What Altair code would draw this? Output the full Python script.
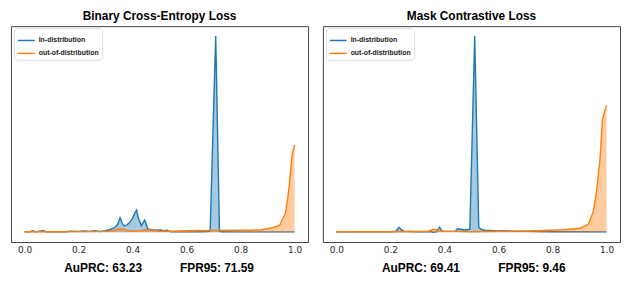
import altair as alt
import pandas as pd

SERIES = ["In-distribution", "out-of-distribution"]
COLORS = ["#1f77b4", "#ff7f0e"]

# ---- Binary Cross-Entropy Loss panel (heights in relative density units) ----
bce_id_x = [0.0, 0.02, 0.03, 0.04, 0.07, 0.08, 0.15, 0.17, 0.2, 0.22, 0.24, 0.26, 0.28, 0.30,
            0.32, 0.335, 0.345, 0.354, 0.362, 0.369, 0.38, 0.39, 0.40, 0.408, 0.415, 0.422,
            0.433, 0.445, 0.457, 0.47, 0.49, 0.504, 0.515, 0.528, 0.54, 0.60, 0.65, 0.68,
            0.6875, 0.708, 0.722, 0.73, 0.8, 0.9, 1.0]
bce_id_y = [0.5, 0.5, 1.5, 0.5, 1.5, 0.5, 0.5, 1.0, 0.8, 1.2, 0.8, 1.5, 0.7, 1.5,
            3.0, 5.0, 8.0, 14.7, 9.0, 6.3, 7.5, 10.0, 14.0, 19.0, 22.3, 14.0,
            6.7, 12.3, 3.4, 2.5, 2.0, 2.2, 1.5, 2.0, 0.5, 0.3, 0.5, 0.6,
            1.0, 198.0, 1.0, 0.4, 0.3, 0.3, 0.3]
bce_ood_x = [0.0, 0.1, 0.2, 0.3, 0.33, 0.345, 0.357, 0.37, 0.385, 0.40, 0.43, 0.456, 0.48,
             0.5, 0.55, 0.6, 0.7, 0.8, 0.835, 0.88, 0.92, 0.945, 0.957, 0.966, 0.973, 0.982,
             0.99, 1.0]
bce_ood_y = [0.5, 0.5, 0.6, 0.8, 1.5, 2.8, 3.4, 2.8, 1.5, 1.2, 1.5, 2.5, 1.8,
             1.0, 1.0, 1.5, 1.8, 2.0, 2.0, 2.5, 4.5, 7.0, 14.0, 19.0, 31.0, 51.0,
             77.0, 88.0]

# ---- Mask Contrastive Loss panel ----
mcl_id_x = [0.0, 0.1, 0.2, 0.22, 0.232, 0.24, 0.25, 0.3, 0.35, 0.36, 0.372, 0.382, 0.39, 0.4,
            0.44, 0.449, 0.46, 0.47, 0.485, 0.494, 0.512, 0.527, 0.535, 0.55, 0.6, 0.62,
            0.65, 0.7, 0.8, 0.9, 1.0]
mcl_id_y = [0.5, 0.5, 0.5, 1.0, 5.0, 2.5, 1.0, 0.5, 0.5, 0.0, 0.5, 5.0, 1.5, 0.8,
            1.0, 3.5, 3.0, 2.5, 2.5, 3.0, 198.0, 5.0, 3.0, 2.0, 1.2, 1.5,
            1.0, 0.8, 0.5, 0.5, 0.3]
mcl_ood_x = [0.0, 0.2, 0.3, 0.34, 0.355, 0.364, 0.375, 0.39, 0.45, 0.5, 0.6, 0.7, 0.8, 0.84,
             0.902, 0.933, 0.951, 0.963, 0.976, 0.985, 1.0]
mcl_ood_y = [0.5, 0.5, 0.7, 1.0, 2.5, 3.0, 2.0, 0.8, 0.8, 0.5, 1.0, 1.2, 2.0, 2.5,
             4.0, 8.0, 21.0, 41.0, 74.0, 114.0, 128.0]

tick_values = [0.0, 0.2, 0.4, 0.6, 0.8, 1.0]

panels = [
    ("Binary Cross-Entropy Loss", bce_id_x, bce_id_y, bce_ood_x, bce_ood_y,
     "AuPRC: 63.23", "FPR95: 71.59", (93, 208)),
    ("Mask Contrastive Loss", mcl_id_x, mcl_id_y, mcl_ood_x, mcl_ood_y,
     "AuPRC: 69.41", "FPR95: 9.46", (99, 211)),
]

FONT = "Liberation Sans"


def make_panel(title, idx, idy, oodx, oody, t1, t2, tpos):
    df = pd.concat([
        pd.DataFrame({"score": idx, "density": idy, "set": SERIES[0]}),
        pd.DataFrame({"score": oodx, "density": oody, "set": SERIES[1]}),
    ], ignore_index=True)
    m = max(max(idy), max(oody))
    xs = alt.X("score:Q", scale=alt.Scale(domain=[-0.05, 1.05], nice=False, zero=False),
               axis=alt.Axis(values=tick_values, format=".1f", title=None, grid=False,
                             ticks=False, domain=False, labelPadding=4,
                             labelFont="DejaVu Sans", labelFontSize=9,
                             labelColor="#262626"))
    ys = alt.Y("density:Q", scale=alt.Scale(domain=[-0.05 * m, 1.05 * m], nice=False, zero=False),
               axis=None)
    base = alt.Chart(df)
    layers = []
    for s, c in zip(SERIES, COLORS):
        layers.append(base.transform_filter(alt.datum.set == s)
                      .mark_area(color=c, opacity=0.4)
                      .encode(x=xs, y=ys, y2=alt.datum(0)))
    lines = base.mark_line(strokeWidth=1.4).encode(
        x=xs, y=ys,
        color=alt.Color("set:N", scale=alt.Scale(domain=SERIES, range=COLORS),
                        legend=alt.Legend(title=None, orient="none", legendX=3, legendY=2,
                                          direction="vertical", symbolType="stroke",
                                          symbolSize=289, symbolStrokeWidth=1.5,
                                          labelFont=FONT, labelFontSize=7,
                                          labelFontWeight="bold", labelColor="#222222",
                                          labelOffset=3, padding=3, rowPadding=-2,
                                          strokeColor="#dddddd", fillColor="white",
                                          cornerRadius=3)),
        detail="set:N",
    )
    txt1 = alt.Chart(pd.DataFrame({"t": [t1]})).mark_text(
        font=FONT, fontSize=12, fontWeight="bold", color="black", baseline="middle"
    ).encode(text="t:N", x=alt.value(tpos[0]), y=alt.value(244))
    txt2 = alt.Chart(pd.DataFrame({"t": [t2]})).mark_text(
        font=FONT, fontSize=12, fontWeight="bold", color="black", baseline="middle"
    ).encode(text="t:N", x=alt.value(tpos[1]), y=alt.value(244))
    return alt.layer(layers[0], lines.transform_filter(alt.datum.set == SERIES[0]),
                     layers[1], lines.transform_filter(alt.datum.set == SERIES[1]),
                     txt1, txt2).properties(
        width=300, height=218,
        title=alt.TitleParams(title, font=FONT, fontSize=12, fontWeight="bold",
                              color="black", offset=3, anchor="middle"))


charts = [make_panel(*p) for p in panels]

chart = alt.hconcat(*charts, spacing=13).resolve_scale(color="independent").resolve_legend(
    color="independent"
).properties(
    padding={"left": 2, "top": 0, "right": 0, "bottom": 0}
).configure_view(stroke="#444444", strokeWidth=1)

chart.save("out.html", embed_options={"renderer": "svg", "actions": False})
